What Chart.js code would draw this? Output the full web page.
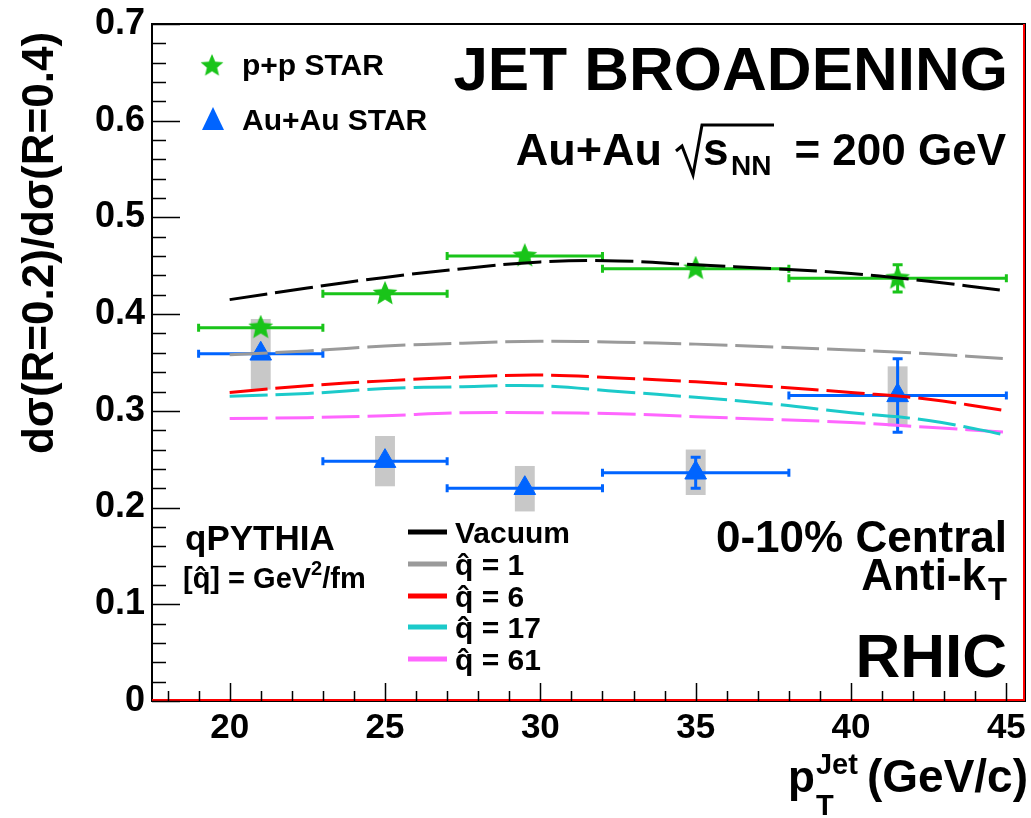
<!DOCTYPE html>
<html>
<head>
<meta charset="utf-8">
<script src="https://cdn.jsdelivr.net/npm/chart.js@4"></script>
<style>
  html, body { margin: 0; padding: 0; background: #fff; }
  #wrap { width: 1031px; height: 818px; }
</style>
</head>
<body>
<div id="wrap"><canvas id="c" width="1031" height="818"></canvas></div>
<script>
// x ticks / y ticks
const xTicks = [20, 25, 30, 35, 40, 45];
const yTicks = [0, 0.1, 0.2, 0.3, 0.4, 0.5, 0.6, 0.7];

// qPYTHIA curves, sampled along pT
const modelX   = [20, 22.5, 25, 27.5, 30, 32.5, 35, 37.5, 40, 42.5, 45];
const vacuum   = [0.415, 0.427, 0.438, 0.447, 0.454, 0.455, 0.451, 0.447, 0.442, 0.434, 0.424];
const qhat1    = [0.358, 0.362, 0.367, 0.370, 0.372, 0.371, 0.369, 0.366, 0.363, 0.359, 0.354];
const qhat6    = [0.319, 0.326, 0.331, 0.335, 0.337, 0.334, 0.330, 0.325, 0.319, 0.312, 0.300];
const qhat17   = [0.315, 0.318, 0.323, 0.325, 0.326, 0.320, 0.314, 0.307, 0.298, 0.290, 0.275];
const qhat61   = [0.292, 0.293, 0.295, 0.298, 0.298, 0.297, 0.294, 0.291, 0.288, 0.283, 0.278];

// STAR p+p
const ppX    = [21, 25, 29.5, 35, 41.5];
const ppXLo  = [19, 23, 27, 32, 38];
const ppXHi  = [23, 27, 32, 38, 45];
const ppY    = [0.386, 0.421, 0.460, 0.447, 0.437];
const ppYErr = [0, 0, 0, 0, 0.014];

// STAR Au+Au
const auX     = [21, 25, 29.5, 35, 41.5];
const auXLo   = [19, 23, 27, 32, 38];
const auXHi   = [23, 27, 32, 38, 45];
const auY     = [0.359, 0.248, 0.220, 0.236, 0.316];
const auYErr  = [0, 0, 0, 0.016, 0.038];
const auSysLo = [0.322, 0.222, 0.196, 0.213, 0.284];
const auSysHi = [0.395, 0.274, 0.243, 0.260, 0.346];

const GREEN = "#19c419";
const BLUE = "#0064ff";
const FONT = "'Liberation Sans', Arial, Helvetica, sans-serif";

function makeStar(size, color) {
  const c = document.createElement("canvas");
  c.width = size; c.height = size;
  const g = c.getContext("2d");
  const r = size / 2, ri = r * 0.45;
  g.beginPath();
  for (let i = 0; i < 10; i++) {
    const a = -Math.PI / 2 + i * Math.PI / 5;
    const rr = i % 2 ? ri : r;
    g.lineTo(r + rr * Math.cos(a), r + rr * Math.sin(a));
  }
  g.closePath();
  g.fillStyle = color;
  g.fill();
  return c;
}
const starImg = makeStar(26, GREEN);

const pts = (xs, ys) => xs.map((x, i) => ({ x: x, y: ys[i] }));

const models = [
  { label: "Vacuum", data: vacuum, color: "#000000" },
  { label: "q\u0302 = 1", data: qhat1, color: "#9a9a9a" },
  { label: "q\u0302 = 6", data: qhat6, color: "#ff0000" },
  { label: "q\u0302 = 17", data: qhat17, color: "#1ccaca" },
  { label: "q\u0302 = 61", data: qhat61, color: "#ff66ff" }
];

const datasets = models.map(m => ({
  label: m.label,
  data: pts(modelX, m.data),
  borderColor: m.color,
  borderWidth: 3,
  borderDash: [38, 8],
  pointRadius: 0,
  tension: 0.4,
  fill: false
}));
const PP = datasets.length;
datasets.push({
  label: "p+p STAR",
  data: pts(ppX, ppY),
  showLine: false,
  pointStyle: starImg,
  pointRadius: 13,
  backgroundColor: GREEN,
  borderColor: GREEN
});
const AU = datasets.length;
datasets.push({
  label: "Au+Au STAR",
  data: pts(auX, auY),
  showLine: false,
  pointStyle: "triangle",
  pointRadius: 12.5,
  pointBorderWidth: 1,
  backgroundColor: BLUE,
  borderColor: BLUE
});

function errBars(ctx, xs, sx, lo, hi, sy, ye, color) {
  ctx.save();
  ctx.strokeStyle = color;
  ctx.lineWidth = 3;
  for (let i = 0; i < xs.length; i++) {
    const px = sx.getPixelForValue(xs[i]);
    const py = sy.getPixelForValue(ye.y[i]);
    const x1 = sx.getPixelForValue(lo[i]), x2 = sx.getPixelForValue(hi[i]);
    ctx.beginPath();
    ctx.moveTo(x1, py); ctx.lineTo(x2, py);
    ctx.moveTo(x1, py - 4); ctx.lineTo(x1, py + 4);
    ctx.moveTo(x2, py - 4); ctx.lineTo(x2, py + 4);
    ctx.stroke();
    if (ye.e[i] > 0) {
      const y1 = sy.getPixelForValue(ye.y[i] + ye.e[i]);
      const y2 = sy.getPixelForValue(ye.y[i] - ye.e[i]);
      ctx.beginPath();
      ctx.moveTo(px, y1); ctx.lineTo(px, y2);
      ctx.moveTo(px - 5, y1); ctx.lineTo(px + 5, y1);
      ctx.moveTo(px - 5, y2); ctx.lineTo(px + 5, y2);
      ctx.stroke();
    }
  }
  ctx.restore();
}

function txt(ctx, s, x, y, size, align) {
  ctx.font = "bold " + size + "px " + FONT;
  ctx.textAlign = align || "left";
  ctx.textBaseline = "alphabetic";
  ctx.fillText(s, x, y);
  return ctx.measureText(s).width;
}

const overlay = {
  id: "overlay",
  beforeDatasetsDraw(chart) {
    const ctx = chart.ctx, sx = chart.scales.x, sy = chart.scales.y;
    ctx.save();
    ctx.fillStyle = "#c8c8c8";
    auX.forEach((x, i) => {
      const x1 = sx.getPixelForValue(x - 0.32), x2 = sx.getPixelForValue(x + 0.32);
      const y1 = sy.getPixelForValue(auSysHi[i]), y2 = sy.getPixelForValue(auSysLo[i]);
      ctx.fillRect(x1, y1, x2 - x1, y2 - y1);
    });
    ctx.restore();
  },
  beforeDatasetDraw(chart, args) {
    const ctx = chart.ctx, sx = chart.scales.x, sy = chart.scales.y;
    if (args.index === PP) errBars(ctx, ppX, sx, ppXLo, ppXHi, sy, { y: ppY, e: ppYErr }, GREEN);
    if (args.index === AU) errBars(ctx, auX, sx, auXLo, auXHi, sy, { y: auY, e: auYErr }, BLUE);
  },
  afterDraw(chart) {
    const ctx = chart.ctx, a = chart.chartArea, sx = chart.scales.x, sy = chart.scales.y;
    ctx.save();
    // frame
    ctx.strokeStyle = "#000";
    ctx.lineWidth = 2;
    ctx.strokeRect(a.left, a.top, a.right - a.left, a.bottom - a.top);
    ctx.strokeStyle = "#ff0000";
    ctx.beginPath();
    ctx.moveTo(a.left, a.bottom - 1); ctx.lineTo(a.right, a.bottom - 1);
    ctx.moveTo(a.right - 1, a.top); ctx.lineTo(a.right - 1, a.bottom);
    ctx.stroke();

    // inner ticks
    ctx.strokeStyle = "#000";
    ctx.lineWidth = 1.5;
    ctx.beginPath();
    for (let v = 0; v <= 0.7001; v += 0.02) {
      const major = Math.abs(v * 10 - Math.round(v * 10)) < 1e-6;
      const py = Math.round(sy.getPixelForValue(v)) + 0.5;
      ctx.moveTo(a.left, py); ctx.lineTo(a.left + (major ? 28 : 14), py);
    }
    for (let v = 18; v <= 45; v += 1) {
      const major = v % 5 === 0;
      const px = Math.round(sx.getPixelForValue(v)) + 0.5;
      ctx.moveTo(px, a.bottom); ctx.lineTo(px, a.bottom - (major ? 18 : 10));
    }
    ctx.stroke();

    ctx.fillStyle = "#000";
    // axis titles
    ctx.save();
    ctx.translate(53, 243);
    ctx.rotate(-Math.PI / 2);
    txt(ctx, "d\u03c3(R=0.2)/d\u03c3(R=0.4)", 0, 0, 44, "center");
    ctx.restore();

    let xx = 788;
    xx += txt(ctx, "p", xx, 792, 44);
    txt(ctx, "Jet", xx + 1, 774, 29);
    txt(ctx, "T", xx + 1, 815, 29);
    txt(ctx, "(GeV/c)", 1028, 792, 46, "right");

    // headline texts
    txt(ctx, "JET BROADENING", 1008, 90, 62, "right");
    // Au+Au sqrt(sNN) = 200 GeV
    const yb = 165;
    txt(ctx, "= 200 GeV", 1006, yb, 44, "right");
    txt(ctx, "s", 703, yb, 46);
    txt(ctx, "NN", 731, yb + 10, 28);
    ctx.strokeStyle = "#000";
    ctx.lineWidth = 3;
    ctx.beginPath();
    ctx.moveTo(676, yb - 14);
    ctx.lineTo(682, yb - 19);
    ctx.lineTo(693, yb + 10);
    ctx.lineTo(702, yb - 40);
    ctx.lineTo(774, yb - 40);
    ctx.stroke();
    txt(ctx, "Au+Au", 662, yb, 45, "right");

    txt(ctx, "0-10% Central", 1007, 552, 44, "right");
    const wT = 21;
    txt(ctx, "T", 1007, 600, 31, "right");
    txt(ctx, "Anti-k", 1007 - wT, 590, 44, "right");
    txt(ctx, "RHIC", 1007, 677, 62, "right");

    // qPYTHIA block
    txt(ctx, "qPYTHIA", 185, 550, 35);
    let qx = 183;
    qx += txt(ctx, "[q\u0302] = GeV", qx, 588, 29);
    qx += txt(ctx, "2", qx, 575, 20);
    txt(ctx, "/fm", qx, 588, 29);

    // model legend
    const base = [543, 575, 607, 638, 670];
    models.forEach((m, i) => {
      ctx.strokeStyle = m.color;
      ctx.lineWidth = 5;
      ctx.beginPath();
      ctx.moveTo(408, base[i] - 11);
      ctx.lineTo(447, base[i] - 11);
      ctx.stroke();
      ctx.fillStyle = "#000";
      txt(ctx, m.label, 455, base[i], 30);
    });

    // data legend
    ctx.drawImage(starImg, 212 - 12, 66 - 12, 24, 24);
    txt(ctx, "p+p STAR", 242, 75, 30);
    ctx.fillStyle = BLUE;
    ctx.beginPath();
    ctx.moveTo(213, 107); ctx.lineTo(224, 130); ctx.lineTo(202, 130);
    ctx.closePath(); ctx.fill();
    ctx.fillStyle = "#000";
    txt(ctx, "Au+Au STAR", 242, 130, 30);
    ctx.restore();
  }
};

new Chart(document.getElementById("c"), {
  type: "line",
  data: { datasets: datasets },
  options: {
    responsive: false,
    animation: false,
    layout: { autoPadding: false, padding: { top: 24, right: 6, left: 0, bottom: 0 } },
    plugins: { legend: { display: false }, tooltip: { enabled: false } },
    scales: {
      x: {
        type: "linear",
        min: 17.5,
        max: 45.6,
        grid: { display: false, drawTicks: false },
        border: { display: false },
        afterBuildTicks: s => { s.ticks = xTicks.map(v => ({ value: v })); },
        afterFit: s => { s.height = 117; s.paddingLeft = 0; s.paddingRight = 0; },
        ticks: {
          padding: 6,
          color: "#000",
          font: { family: FONT, size: 35, weight: "bold" },
          maxRotation: 0,
          callback: v => String(v)
        }
      },
      y: {
        min: 0,
        max: 0.7,
        grid: { display: false, drawTicks: false },
        border: { display: false },
        afterBuildTicks: s => { s.ticks = yTicks.map(v => ({ value: v })); },
        afterFit: s => { s.width = 152; s.paddingTop = 0; s.paddingBottom = 0; },
        ticks: {
          padding: 7,
          color: "#000",
          font: { family: FONT, size: 36, weight: "bold" },
          callback: v => (v === 0 ? "0" : v.toFixed(1))
        }
      }
    }
  },
  plugins: [overlay]
});
</script>
</body>
</html>
